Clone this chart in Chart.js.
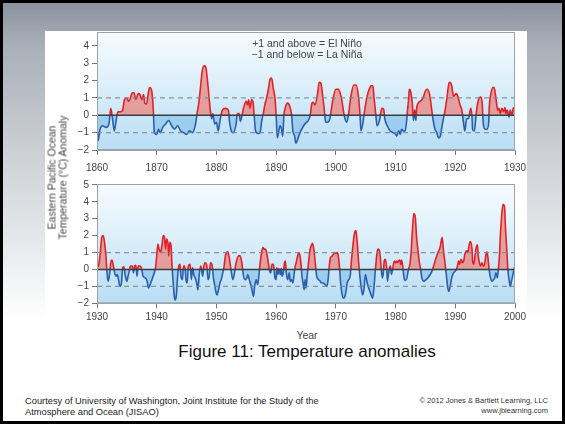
<!DOCTYPE html>
<html>
<head>
<meta charset="utf-8">
<script src="https://cdn.jsdelivr.net/npm/chart.js@4.4.1/dist/chart.umd.min.js"></script>
<style>
  html, body { margin: 0; padding: 0; }
  body { width: 565px; height: 424px; background: #000; position: relative; overflow: hidden; font-family: "Liberation Sans", Arial, sans-serif; }
  #slide { position: absolute; left: 3px; top: 3px; width: 559px; height: 418px;
    background: linear-gradient(to bottom, #8a929e 0%, #a9afb8 10%, #cfd3d8 38%, #eceef0 62%, #ffffff 76%); }
  #figure { position: absolute; left: 45px; top: 31px; width: 482px; height: 300px; background: #fff; }
  canvas { position: absolute; left: 0; }
  .txt { position: absolute; white-space: nowrap; color: #444; }
</style>
</head>
<body>
<div id="slide"></div>
<div id="figure"></div>
<canvas id="topChart" width="565" height="175" style="top:0px"></canvas>
<canvas id="bottomChart" width="565" height="150" style="top:175px"></canvas>

<div class="txt" style="left:207px; top:38px; width:200px; text-align:center; font-size:10.5px; line-height:11px;">+1 and above = El Niño<br>&minus;1 and below = La Niña</div>
<div class="txt" style="left:-13px; top:167px; width:140px; text-align:center; font-size:10.5px; line-height:10.5px; transform:rotate(-90deg);">Eastern Pacific Ocean<br>Temperature (°C) Anomaly</div>
<div class="txt" style="left:257px; top:329px; width:100px; text-align:center; font-size:10.5px;">Year</div>
<div class="txt" style="left:107px; top:342px; width:400px; text-align:center; font-size:17px; color:#111;">Figure 11: Temperature anomalies</div>
<div class="txt" style="left:25px; top:396px; font-size:9.3px; line-height:11px; color:#222;">Courtesy of University of Washington, Joint Institute for the Study of the<br>Atmosphere and Ocean (JISAO)</div>
<div class="txt" style="left:348px; top:396px; width:200px; text-align:right; font-size:7.5px; line-height:9.5px; color:#333;">© 2012 Jones &amp; Bartlett Learning, LLC<br>www.jblearning.com</div>

<script>
// 1860-1930 panel
const topYears = [
  1860.0, 1860.2, 1860.5, 1861.0, 1861.5, 1862.0, 1862.3, 1862.6, 1862.9, 1863.2, 1863.5, 1864.0, 1864.3, 1864.6,
  1865.0, 1865.3, 1865.6, 1865.9, 1866.2, 1866.5, 1866.9, 1867.2, 1867.5, 1867.8, 1868.0, 1868.3, 1868.6, 1868.8,
  1869.1, 1869.4, 1869.6, 1870.0, 1870.3, 1870.6, 1871.0, 1871.5, 1872.0, 1872.5, 1873.0, 1873.5, 1874.0, 1874.5,
  1875.0, 1875.5, 1876.0, 1876.5, 1876.8, 1877.0, 1877.3, 1877.6, 1877.9, 1878.2, 1878.5, 1878.8, 1879.0, 1879.2,
  1879.4, 1879.7, 1880.0, 1880.3, 1880.6, 1880.9, 1881.1, 1881.5, 1882.0, 1882.2, 1882.5, 1882.8, 1883.3, 1883.5,
  1883.8, 1884.0, 1884.4, 1884.6, 1885.0, 1885.2, 1885.4, 1885.6, 1885.9, 1886.1, 1886.3, 1886.5, 1886.7, 1887.0,
  1887.3, 1887.6, 1887.9, 1888.1, 1888.4, 1888.7, 1889.0, 1889.25, 1889.5, 1889.8, 1890.0, 1890.2, 1890.4, 1890.65,
  1890.9, 1891.1, 1891.3, 1891.5, 1891.9, 1892.3, 1892.6, 1892.8, 1893.1, 1893.3, 1893.7, 1894.0, 1894.6, 1895.1,
  1895.4, 1895.7, 1896.0, 1896.2, 1896.5, 1896.9, 1897.2, 1897.5, 1897.8, 1898.1, 1898.3, 1898.6, 1899.0, 1899.1,
  1899.5, 1900.0, 1900.4, 1900.9, 1901.4, 1901.8, 1902.1, 1902.5, 1903.0, 1903.4, 1903.8, 1904.05, 1904.2, 1904.5,
  1904.7, 1905.2, 1905.7, 1906.0, 1906.2, 1906.4, 1906.7, 1906.9, 1907.3, 1907.7, 1908.0, 1908.2, 1908.6, 1909.1,
  1909.6, 1909.9, 1910.2, 1910.5, 1910.8, 1911.0, 1911.3, 1911.6, 1911.8, 1912.0, 1912.2, 1912.3, 1912.5, 1912.8,
  1913.0, 1913.2, 1913.4, 1913.5, 1913.8, 1914.1, 1914.4, 1914.7, 1915.0, 1915.3, 1915.7, 1916.1, 1916.3, 1916.6,
  1916.9, 1917.2, 1917.5, 1917.7, 1918.0, 1918.3, 1918.6, 1918.9, 1919.1, 1919.4, 1919.7, 1920.0, 1920.2, 1920.5,
  1920.8, 1921.1, 1921.4, 1921.6, 1921.9, 1922.2, 1922.5, 1922.6, 1922.8, 1922.9, 1923.2, 1923.5, 1923.7, 1924.0,
  1924.3, 1924.5, 1924.7, 1925.0, 1925.3, 1925.6, 1925.7, 1926.0, 1926.3, 1926.5, 1926.8, 1927.1, 1927.3, 1927.5,
  1927.8, 1928.1, 1928.3, 1928.5, 1928.7, 1929.0, 1929.2, 1929.5, 1929.7, 1930.0
];
const topAnomaly = [
  -0.7, -1.45, -0.8, -0.6, -0.7, -0.5, 0.4, -0.2, -0.9, -0.3, 0.2, 0.2, 0.3, 0.9,
  1.0, 0.8, 1.0, 1.3, 1.3, 0.9, 1.25, 1.2, 0.9, 1.2, 0.7, 0.65, 1.3, 1.6,
  1.5, 0.5, -1.0, -1.1, -0.8, -1.0, -0.7, -0.5, -0.3, -0.6, -0.8, -0.6, -0.9, -1.0,
  -1.1, -0.9, -1.0, -0.5, 0.2, 0.6, 1.5, 2.5, 2.85, 2.8, 2.0, 0.9, 0.2, -0.2,
  0.1, -0.5, -0.4, -0.9, -0.3, 0.2, 0.35, 0.4, 0.3, -0.4, -0.9, -1.0, -0.5, 0.1,
  0.1, -0.35, 0.2, 0.5, 0.8, 0.6, 0.9, 0.4, 0.9, 0.8, 0.1, -0.8, -1.0, -1.05,
  -1.0, -0.3, 0.2, 0.6, 1.0, 1.5, 2.1, 2.15, 1.6, 1.0, 0.0, -1.3, -1.0, -0.6,
  -0.8, -1.2, 0.0, 0.4, 0.7, 0.5, 0.0, -0.9, -1.2, -1.6, -1.3, -1.0, -0.6, -0.4,
  -0.3, 0.0, 0.7, 0.75, 0.6, 1.15, 1.9, 1.85, 1.1, 0.2, -0.4, -0.4, -0.2, 0.0,
  0.9, 1.5, 1.5, 1.05, 0.0, -0.4, 0.0, 1.05, 1.75, 1.75, 1.05, 0.0, -0.9, -0.5,
  0.0, 1.05, 1.6, 1.7, 1.7, 1.0, 0.0, -0.6, -0.3, 0.4, 0.35, -0.2, -0.6, -0.9,
  -1.0, -1.05, -1.2, -0.9, -1.1, -0.8, -0.9, -0.9, -0.5, 0.3, 1.0, 1.5, 1.4, 0.7,
  -0.3, 0.3, -0.3, 0.3, 0.7, 0.8, 0.9, 1.1, 1.4, 1.5, 1.2, 0.2, -0.3, -0.8,
  -1.0, -1.3, -1.2, -0.8, -0.2, 0.3, 1.0, 1.8, 1.9, 1.7, 1.1, 1.2, 1.25, 1.0,
  0.6, 0.3, -0.5, -0.9, -0.2, -0.2, 0.3, 0.4, -0.1, -0.8, -0.9, 0.1, 0.6, 1.0,
  1.05, 0.7, -0.5, -0.8, -0.8, -0.4, 0.5, 1.3, 1.6, 1.6, 1.0, 0.3, 0.4, 0.1,
  0.4, 0.2, 0.45, 0.1, 0.3, -0.1, 0.3, 0.0, 0.4, 0.45
];

// 1930-2000 panel
const bottomYears = [
  1930.0, 1930.3, 1930.55, 1930.8, 1931.05, 1931.3, 1931.5, 1931.7, 1931.85, 1932.1, 1932.3, 1932.5, 1932.7, 1932.95,
  1933.2, 1933.4, 1933.6, 1933.85, 1934.1, 1934.3, 1934.5, 1934.7, 1935.0, 1935.2, 1935.4, 1935.6, 1935.9, 1936.1,
  1936.3, 1936.5, 1936.7, 1936.9, 1937.2, 1937.5, 1937.7, 1938.1, 1938.4, 1938.6, 1938.9, 1939.2, 1939.5, 1939.8,
  1940.0, 1940.2, 1940.4, 1940.65, 1940.9, 1941.1, 1941.3, 1941.5, 1941.65, 1941.9, 1942.0, 1942.2, 1942.4, 1942.55,
  1942.8, 1942.95, 1943.1, 1943.3, 1943.5, 1943.7, 1943.9, 1944.05, 1944.3, 1944.5, 1944.7, 1944.9, 1945.1, 1945.3,
  1945.6, 1945.8, 1946.0, 1946.2, 1946.45, 1946.7, 1946.9, 1947.1, 1947.35, 1947.5, 1947.7, 1947.9, 1948.1, 1948.35,
  1948.6, 1948.8, 1949.0, 1949.25, 1949.5, 1949.7, 1949.9, 1950.1, 1950.35, 1950.6, 1950.8, 1951.0, 1951.25, 1951.5,
  1951.7, 1951.9, 1952.1, 1952.35, 1952.75, 1952.97, 1953.3, 1953.7, 1953.97, 1954.25, 1954.5, 1954.8, 1955.1, 1955.25,
  1955.5, 1955.75, 1956.0, 1956.2, 1956.4, 1956.65, 1956.9, 1957.1, 1957.3, 1957.55, 1957.8, 1958.0, 1958.2, 1958.4,
  1958.65, 1958.9, 1959.1, 1959.3, 1959.55, 1959.8, 1960.0, 1960.1, 1960.3, 1960.45, 1960.7, 1960.85, 1961.0, 1961.2,
  1961.4, 1961.55, 1961.7, 1961.95, 1962.2, 1962.35, 1962.55, 1962.8, 1963.0, 1963.2, 1963.35, 1963.6, 1963.8, 1964.0,
  1964.2, 1964.3, 1964.5, 1964.7, 1964.85, 1965.0, 1965.25, 1965.45, 1965.7, 1966.0, 1966.1, 1966.35, 1966.6, 1966.8,
  1967.1, 1967.4, 1967.6, 1967.9, 1968.2, 1968.5, 1968.7, 1968.9, 1969.1, 1969.4, 1969.6, 1969.8, 1970.0, 1970.25,
  1970.4, 1970.6, 1970.8, 1971.0, 1971.3, 1971.5, 1971.7, 1971.9, 1972.15, 1972.4, 1972.6, 1972.8, 1973.05, 1973.3,
  1973.4, 1973.6, 1973.8, 1974.05, 1974.3, 1974.5, 1974.7, 1974.95, 1975.25, 1975.6, 1975.9, 1976.15, 1976.4, 1976.55,
  1976.7, 1976.9, 1977.1, 1977.3, 1977.45, 1977.6, 1977.8, 1977.95, 1978.1, 1978.3, 1978.5, 1978.65, 1978.8, 1979.0,
  1979.15, 1979.3, 1979.5, 1979.65, 1979.8, 1980.0, 1980.2, 1980.35, 1980.5, 1980.7, 1980.85, 1981.0, 1981.2, 1981.35,
  1981.5, 1981.7, 1981.9, 1982.15, 1982.4, 1982.6, 1982.8, 1983.05, 1983.3, 1983.5, 1983.7, 1983.95, 1984.2, 1984.4,
  1984.75, 1985.1, 1985.4, 1985.8, 1986.1, 1986.45, 1986.8, 1987.1, 1987.45, 1987.8, 1988.0, 1988.3, 1988.5, 1988.7,
  1988.9, 1989.15, 1989.4, 1989.7, 1990.0, 1990.3, 1990.55, 1990.7, 1990.95, 1991.2, 1991.4, 1991.6, 1991.9, 1992.1,
  1992.3, 1992.5, 1992.8, 1992.9, 1993.1, 1993.3, 1993.45, 1993.7, 1993.85, 1994.1, 1994.25, 1994.45, 1994.7, 1994.9,
  1995.15, 1995.3, 1995.5, 1995.7, 1995.9, 1996.15, 1996.4, 1996.6, 1996.8, 1997.05, 1997.2, 1997.4, 1997.55, 1997.8,
  1998.0, 1998.25, 1998.4, 1998.65, 1998.8, 1999.0, 1999.2, 1999.4, 1999.65, 1999.9, 2000.0
];
const bottomAnomaly = [
  0.1, 0.3, 1.0, 1.9, 2.0, 1.5, 0.8, -0.3, -0.7, -0.3, 0.4, 0.55, 0.3, -0.2,
  -0.4, -0.3, -0.6, -1.0, -0.8, 0.1, 0.15, -0.3, -0.7, -0.4, -0.1, 0.2, 0.2, -0.2,
  0.2, 0.25, -0.4, 0.2, 0.2, 0.0, -0.4, -0.5, -0.7, -1.1, -0.9, -0.6, -0.3, 0.1,
  0.8, 1.5, 1.2, 1.0, 1.5, 2.0, 1.9, 1.2, 1.8, 1.5, 0.8, 1.6, 1.4, 0.3,
  -1.0, -1.6, -1.8, -1.5, -0.4, 0.2, 0.3, -0.4, -0.6, 0.2, 0.2, -0.6, -0.8, 0.2,
  0.3, -0.6, 0.1, -0.3, -0.5, -0.8, -1.2, -0.4, 0.2, 0.05, -0.4, 0.2, 0.4, 0.3,
  -0.6, -0.4, 0.4, 0.3, -0.5, -0.9, -1.3, -1.5, -1.2, -0.8, -0.6, -0.3, 0.1, 0.8,
  1.0, 1.05, 0.8, 0.2, -0.6, -0.3, 0.4, 0.8, 0.8, 0.4, -0.3, -0.6, -0.5, -0.3,
  -0.6, -0.9, -1.3, -1.6, -1.0, -0.6, -0.9, -0.4, 0.3, 1.0, 1.3, 1.2, 1.2, 1.0,
  0.5, -0.1, -0.2, 0.3, 0.3, -0.5, -0.6, 0.1, -0.3, 0.05, -0.3, 0.05, -0.4, -0.2,
  0.4, 0.5, -0.2, -0.6, -0.2, -0.7, -0.6, -0.8, -0.3, 0.2, 0.4, 0.8, 1.0, 0.8,
  0.2, -0.3, -0.8, -1.2, -0.6, -1.1, -0.2, 0.5, 1.2, 1.5, 1.55, 1.1, 0.2, -0.4,
  -0.6, -0.7, -0.8, -0.8, -0.9, -1.0, -0.6, 0.2, 0.7, 0.8, 0.9, 1.0, 0.95, 1.0,
  0.8, 0.2, -0.8, -1.4, -1.7, -1.6, -1.3, -0.8, -0.6, -0.4, 0.5, 1.2, 2.0, 2.3,
  2.2, 1.5, 0.5, -0.5, -1.2, -1.5, -1.2, -0.3, -0.8, -1.2, -1.5, -1.7, -1.0, -0.3,
  0.3, 1.0, 1.2, 1.1, 0.7, 0.0, -0.5, -0.2, 0.5, 0.6, 0.1, -0.7, -0.3, 0.1,
  0.2, -0.3, 0.0, 0.3, 0.5, 0.4, 0.5, 0.4, 0.5, 0.55, 0.3, 0.55, 0.2, -0.3,
  -0.6, -0.65, -0.5, 0.0, 0.3, 1.0, 2.2, 3.3, 3.1, 2.0, 1.3, 0.5, 0.0, -0.5,
  -0.7, -0.6, -0.5, -0.3, -0.1, 0.3, 0.7, 1.0, 1.3, 1.9, 1.2, 0.3, -0.3, -1.0,
  -1.3, -1.0, -0.5, -0.2, -0.1, 0.1, 0.5, 0.3, 0.6, 0.4, 0.5, 0.9, 1.1, 1.0,
  1.4, 1.65, 1.2, 0.5, 0.3, 0.8, 1.2, 1.45, 0.8, 0.3, 0.2, 0.4, 0.2, 0.3,
  0.9, 1.05, 0.6, -0.1, -0.5, -0.7, -0.6, -0.5, -0.2, -0.5, 0.0, 0.8, 2.0, 3.3,
  3.85, 3.7, 2.5, 1.0, 0.0, -0.6, -1.0, -0.7, -0.3, 0.1, 0.15
];

const thresholdLevels = [-1, 1];
const FONT = "'Liberation Sans', Arial, sans-serif";
const RED_LINE = "#df2229";
const BLUE_LINE = "#2a5fae";

// vertical gradient that switches from red to blue exactly at the zero line
function signedLineColor(context) {
  const chart = context.chart;
  const area = chart.chartArea;
  if (!area) return RED_LINE;
  const y0 = chart.scales.y.getPixelForValue(0);
  const t = Math.min(1, Math.max(0, (y0 - area.top) / (area.bottom - area.top)));
  const g = chart.ctx.createLinearGradient(0, area.top, 0, area.bottom);
  g.addColorStop(0, RED_LINE);
  g.addColorStop(t, RED_LINE);
  g.addColorStop(t, BLUE_LINE);
  g.addColorStop(1, BLUE_LINE);
  return g;
}

const panelBackground = {
  id: "panelBackground",
  beforeDraw(chart) {
    const { ctx, chartArea: a } = chart;
    const g = ctx.createLinearGradient(0, a.top, 0, a.bottom);
    g.addColorStop(0, "#f7fbfe");
    g.addColorStop(0.55, "#d6ecf9");
    g.addColorStop(1, "#b9ddf4");
    ctx.save();
    ctx.fillStyle = g;
    ctx.fillRect(a.left, a.top, a.right - a.left, a.bottom - a.top);
    ctx.restore();
  },
  afterDraw(chart) {
    const { ctx, chartArea: a } = chart;
    ctx.save();
    ctx.strokeStyle = "#9aa3aa";
    ctx.lineWidth = 1;
    ctx.strokeRect(a.left + 0.5, a.top + 0.5, a.right - a.left - 1, a.bottom - a.top - 1);
    ctx.restore();
  }
};

function buildDatasets(years, values, xMin, xMax) {
  const sets = [
    {
      data: [{ x: xMin, y: 0 }, { x: xMax, y: 0 }],
      borderColor: "#3a3d40",
      borderWidth: 1.5,
      pointRadius: 0,
      fill: false,
      order: 0
    },
    {
      data: years.map((x, i) => ({ x: x, y: values[i] })),
      borderColor: signedLineColor,
      borderWidth: 1.6,
      pointRadius: 0,
      cubicInterpolationMode: "monotone",
      fill: { target: "origin", above: "rgba(240,112,100,0.62)", below: "rgba(70,160,225,0.33)" },
      order: 2
    }
  ];
  thresholdLevels.forEach((lvl) => {
    sets.push({
      data: [{ x: xMin, y: lvl }, { x: xMax, y: lvl }],
      borderColor: "rgba(120,135,145,0.85)",
      borderWidth: 1.2,
      borderDash: [5, 4],
      pointRadius: 0,
      fill: false,
      order: 1
    });
  });
  return sets;
}

function panelOptions(xMin, xMax, yMax, padTop, xAxisHeight, xLabelPad) {
  return {
    responsive: false,
    animation: false,
    events: [],
    layout: { padding: { left: 67, right: 50, top: padTop, bottom: 0 } },
    plugins: { legend: { display: false }, tooltip: { enabled: false } },
    scales: {
      x: {
        type: "linear",
        min: xMin,
        max: xMax,
        ticks: {
          stepSize: 10,
          maxRotation: 0,
          padding: xLabelPad,
          color: "#444",
          font: { family: FONT, size: 10 },
          callback: (v) => String(v)
        },
        grid: { drawOnChartArea: false, tickLength: 5, color: "#777" },
        border: { color: "#9aa3aa" },
        afterFit: (s) => { s.height = xAxisHeight; }
      },
      y: {
        type: "linear",
        min: -2,
        max: yMax,
        ticks: {
          stepSize: 1,
          includeBounds: false,
          padding: 3,
          color: "#444",
          font: { family: FONT, size: 10 },
          callback: (v) => (v < 0 ? "\u2212" + Math.abs(v) : String(v))
        },
        grid: { drawOnChartArea: false, tickLength: 5, color: "#777" },
        border: { color: "#9aa3aa" },
        afterFit: (s) => { s.width = 30; }
      }
    }
  };
}

new Chart(document.getElementById("topChart"), {
  type: "line",
  data: { datasets: buildDatasets(topYears, topAnomaly, 1860, 1930) },
  options: panelOptions(1860, 1930, 4.8, 32, 25, 7),
  plugins: [panelBackground]
});

new Chart(document.getElementById("bottomChart"), {
  type: "line",
  data: { datasets: buildDatasets(bottomYears, bottomAnomaly, 1930, 2000) },
  options: panelOptions(1930, 2000, 5.05, 6, 21.7, 3),
  plugins: [panelBackground]
});
</script>
</body>
</html>
